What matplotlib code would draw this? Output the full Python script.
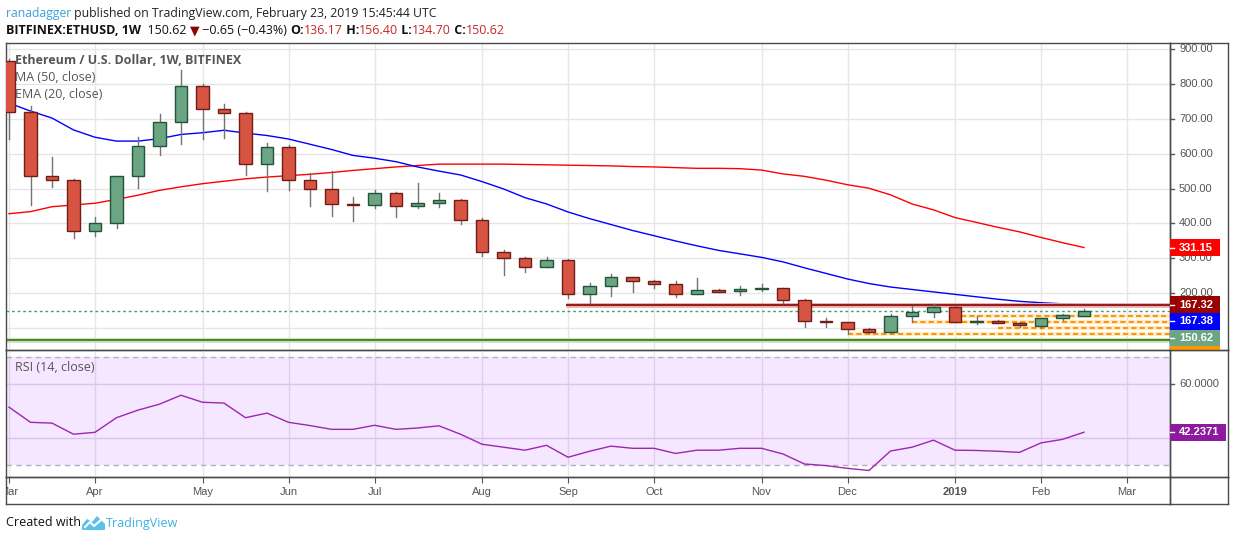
import matplotlib
matplotlib.use("Agg")
import matplotlib.pyplot as plt
from matplotlib.patches import Rectangle, Polygon
from matplotlib.lines import Line2D

# weekly ETHUSD candles (Bitfinex), week of Mar 5 2018 -> week of Feb 18 2019
opens = [865, 720, 535, 524, 378, 400, 535, 621, 690, 793, 727, 716, 570, 618, 524, 498, 456,
         452, 487, 449, 458, 466, 409, 317, 300, 274, 295, 197, 220, 246, 234, 226, 197, 209,
         206, 211, 214, 180, 120.6, 117, 97, 88, 134, 146, 160, 117, 120, 114.5, 107, 128, 136.17]
highs = [870, 737, 590, 527, 419, 537, 647, 714, 840, 800, 742, 719, 630, 624, 544, 549, 476,
         495, 490, 516, 487, 469, 415, 323, 303, 304, 298, 229, 255, 248, 238, 235, 244, 212,
         221, 227, 215, 183, 129, 117.5, 100.6, 141, 164, 170, 164, 134, 122.6, 117, 130, 141, 156.40]
lows = [642, 454, 505, 359, 365, 388, 501, 596, 629, 641, 646, 540, 494, 497, 451, 422, 408,
        445, 419, 444, 448, 399, 308, 253, 262, 274, 187, 171, 193, 204, 216, 190, 197, 204,
        196, 207, 172, 104, 104, 83, 85, 87, 118, 133, 117, 111, 114, 104, 101, 124, 134.70]
closes = [719, 537, 524, 378, 401, 535, 621, 690, 793, 727, 716, 570, 618, 524, 498, 455, 452,
          487, 449, 458, 466, 409, 317, 300, 274, 295, 198, 220, 246, 234, 226, 197, 209, 205,
          211, 214, 180, 120, 117, 97, 88, 134, 146, 160, 117.5, 119.6, 114.5, 108, 128, 137, 150.62]

ema20 = [745, 722, 702, 668, 647, 636, 636, 643, 655, 660, 667, 659, 652, 642, 627, 612, 595,
         587, 577, 562, 550, 539, 520, 499, 474, 456, 433, 414, 397, 380, 365, 350, 336, 323,
         313, 303, 290, 273, 257, 241, 228, 218, 211, 204, 197, 190, 183, 177, 173, 170, 167.38]
ma50 = [428, 434, 448, 453, 458, 469, 481, 495, 505, 514, 521, 528, 533, 537, 541, 546, 552,
        557, 562, 566, 570, 570, 570, 570, 569, 568, 567, 566, 565, 563, 562, 560, 558, 558,
        557, 553, 542, 535, 524, 511, 501, 482, 456, 439, 417, 403, 389, 376, 360, 345, 331.15]
rsi14 = [51.5, 45.9, 45.6, 41.5, 42.2, 47.6, 50.4, 52.6, 55.9, 53.3, 53.0, 47.6, 49.3, 45.9,
         44.7, 43.3, 43.3, 44.8, 43.3, 43.8, 44.6, 41.5, 37.8, 36.7, 35.6, 37.4, 33.0, 35.2,
         37.1, 36.3, 36.3, 34.4, 35.6, 35.6, 36.3, 36.3, 34.2, 30.5, 29.9, 28.9, 28.1, 35.3,
         36.7, 39.3, 35.6, 35.5, 35.2, 34.8, 38.3, 39.6, 42.2371]

# drawn levels
resistance = 167.32
resistance_from = 26
support = 65
orange_levels = [134, 117, 102, 82.5]
orange_from = [44.3, 42, 46, 39]

month_names = ["Mar", "Apr", "May", "Jun", "Jul", "Aug", "Sep", "Oct", "Nov", "Dec",
               "2019", "Feb", "Mar"]
month_bars = [0, 4, 9, 13, 17, 22, 26, 30, 35, 39, 44, 48, 52]
price_ticks = [100, 200, 300, 400, 500, 600, 700, 800, 900]
rsi_ticks = [40, 60]

W, H = 1234, 541
fig = plt.figure(figsize=(W / 100, H / 100), dpi=100)
fig.patch.set_facecolor("white")

FRAME = "#4a4a4a"
GRID = "#e6e6e6"
TXT = "#555555"
NUMFONT = ["Liberation Sans", "DejaVu Sans"]
UIFONT = ["Open Sans", "DejaVu Sans"]


def px_axes(x0, y0, x1, y1):
    a = fig.add_axes([x0 / W, 1 - y1 / H, (x1 - x0) / W, (y1 - y0) / H])
    a.set_facecolor("none")
    for s in a.spines.values():
        s.set_color(FRAME)
        s.set_linewidth(1)
    a.tick_params(left=False, bottom=False, labelleft=False, labelbottom=False)
    return a


ax = px_axes(6, 43, 1170, 350)
pax = px_axes(1170, 43, 1228, 350)
rax = px_axes(6, 350, 1170, 477)
rpax = px_axes(1170, 350, 1228, 477)
tax = px_axes(6, 477, 1170, 504)
cax = px_axes(1170, 477, 1228, 504)

xlim = (-3 / 21.5, 1161 / 21.5)
ylim = (37.6, 917)
rlim = (25.7, 72.6)
for a in (pax, rpax, cax):
    a.set_xlim(0, 1)
for a in (ax, rax, tax):
    a.set_xlim(*xlim)
for a in (ax, pax):
    a.set_ylim(*ylim)
for a in (rax, rpax):
    a.set_ylim(*rlim)
tax.set_ylim(0, 1)
cax.set_ylim(0, 1)

# grid
for a in (ax, rax):
    for b in month_bars:
        a.axvline(b, color=GRID, lw=1, zorder=0)
for p in price_ticks:
    ax.axhline(p, color=GRID, lw=1, zorder=0)
for r in rsi_ticks:
    rax.axhline(r, color="#e3d9ea", lw=1, zorder=0)

# moving averages
bars = list(range(len(closes)))
ax.plot(bars, ma50, color="#ff0000", lw=1, zorder=2)
ax.plot(bars, ema20, color="#0000ff", lw=1, zorder=2)

# drawn horizontal levels (under the candles)
ax.plot([resistance_from - 0.1, xlim[1]], [resistance] * 2, color="#eab4b4", lw=3.5, zorder=2.5,
        solid_capstyle="butt")
ax.plot([resistance_from - 0.1, xlim[1]], [resistance] * 2, color="#9b1b1b", lw=1.5, zorder=2.5,
        solid_capstyle="butt")
ax.axhline(support, color="#cfe2c0", lw=3.5, zorder=2.5)
ax.axhline(support, color="#4a8a2a", lw=1.5, zorder=2.5)
for lvl, start in zip(orange_levels, orange_from):
    ax.plot([start, xlim[1]], [lvl] * 2, color="#ffedd2", lw=3, zorder=2.5, solid_capstyle="butt")
    ax.plot([start, xlim[1]], [lvl] * 2, color="#ff9800", lw=1.5, ls=(0, (2.5, 1.5)), zorder=2.5)
ax.axhline(closes[-1], color="#4c9e6e", lw=1, ls=(0, (2, 2)), zorder=2.5)

# candles
up_face, up_edge = "#6ba583", "#225437"
dn_face, dn_edge = "#d75442", "#6f1d16"
for i in bars:
    o, h, l, c = opens[i], highs[i], lows[i], closes[i]
    ax.plot([i, i], [l, h], color="#737375", lw=1, zorder=3)
    up = c >= o
    ax.bar(i, max(abs(c - o), 0.8), bottom=min(o, c), width=0.56,
           color=up_face if up else dn_face, edgecolor=up_edge if up else dn_edge,
           linewidth=1, zorder=4)

# legend texts
ax.text(9 / 1164, 1 - 18 / 307, "Ethereum / U.S. Dollar, 1W, BITFINEX", transform=ax.transAxes,
        fontsize=9, fontweight="bold", color=TXT, family=UIFONT, va="center", ha="left", zorder=6)
ax.text(9 / 1164, 1 - 34.5 / 307, "MA (50, close)", transform=ax.transAxes,
        fontsize=9, color=TXT, family=UIFONT, va="center", ha="left", zorder=6)
ax.text(9 / 1164, 1 - 51 / 307, "EMA (20, close)", transform=ax.transAxes,
        fontsize=9, color=TXT, family=UIFONT, va="center", ha="left", zorder=6)

# price scale
tick_len = 4 / 58
label_x = 9 / 58
for p in price_ticks[1:]:
    pax.plot([0, tick_len], [p, p], color=TXT, lw=1)
    pax.text(label_x, p, f"{p:.2f}", color=TXT, fontsize=8, family=NUMFONT, va="center",
             ha="left")

# value boxes, stacked downward when they would collide
box_h = 16.7 / (307 / (ylim[1] - ylim[0]))
scale_labels = [(ma50[-1], "#ff0000"), (resistance, "#990000"), (ema20[-1], "#0000ff"),
                (closes[-1], "#6ba583"), (orange_levels[0], "#ff9800")]
prev = None
for val, col in scale_labels:
    yc = val if prev is None else min(val, prev - box_h)
    prev = yc
    pax.add_patch(Rectangle((0, yc - box_h / 2), 50 / 58, box_h, facecolor=col,
                            edgecolor="none", clip_on=True, zorder=3))
    pax.plot([0, tick_len], [yc, yc], color="white", lw=1, zorder=4)
    pax.text(label_x, yc, f"{val:.2f}", color="white", fontsize=8, fontweight="bold",
             family=NUMFONT, va="center", ha="left", zorder=5, clip_on=True)

# RSI panel
rax.axhspan(30, 70, color="#9915ff", alpha=0.1, lw=0, zorder=1)
for lvl in (30, 70):
    rax.axhline(lvl, color="#b7aec0", lw=1, ls=(0, (4, 3)), zorder=1.5)
rax.plot(bars, rsi14, color="#9c27b0", lw=1, zorder=3)
rax.text(9 / 1164, 1 - 17.5 / 127, "RSI (14, close)", transform=rax.transAxes, fontsize=9,
         color=TXT, family=UIFONT, va="center", ha="left")

for r in rsi_ticks:
    rpax.plot([0, tick_len], [r, r], color=TXT, lw=1)
# the 40 label sits under the current-value box, only 60 is readable
rpax.text(label_x, rsi_ticks[1], f"{rsi_ticks[1]:.4f}", color=TXT, fontsize=8, family=NUMFONT,
          va="center", ha="left")
rbox_h = 16.7 / (127 / (rlim[1] - rlim[0]))
rpax.add_patch(Rectangle((0, rsi14[-1] - rbox_h / 2), 56 / 58, rbox_h, facecolor="#8e1a9d",
                         edgecolor="none", zorder=3))
rpax.plot([0, tick_len], [rsi14[-1]] * 2, color="white", lw=1, zorder=4)
rpax.text(label_x, rsi14[-1], f"{rsi14[-1]:.4f}", color="white", fontsize=8, fontweight="bold",
          family=NUMFONT, va="center", ha="left", zorder=5)

# time scale
tax.set_xticks(month_bars)
tax.tick_params(axis="x", top=True, bottom=False, direction="in", length=4, color=TXT,
                labeltop=False, labelbottom=False)
for name, b in zip(month_names, month_bars):
    tax.text(b, 0.46, name, color=TXT, fontsize=8, family=NUMFONT, va="center", ha="center",
             fontweight="bold" if name.isdigit() else "normal", clip_on=True)

# header lines, written run by run
renderer = fig.canvas.get_renderer()


def write_runs(x, y, runs, size):
    for txt, color, weight in runs:
        t = fig.text(x / W, 1 - y / H, txt, color=color, fontsize=size, fontweight=weight,
                     family=UIFONT, va="center", ha="left")
        x += t.get_window_extent(renderer).width


write_runs(6, 13, [("ranadagger", "#3ea0dd", "normal"),
                   (" published on TradingView.com, February 23, 2019 15:45:44 UTC", "#222222",
                    "normal")], 8.8)
red = "#c62828"
write_runs(6, 31, [("BITFINEX:ETHUSD, 1W", "#111111", "bold"),
                   ("  150.62 ", "#111111", "normal"),
                   ("▼", "#8b0000", "normal"),
                   (" \u22120.65 (\u22120.43%) ", "#111111", "normal"),
                   ("O:", "#111111", "bold"), ("136.17", red, "normal"),
                   (" H:", "#111111", "bold"), ("156.40", red, "normal"),
                   (" L:", "#111111", "bold"), ("134.70", red, "normal"),
                   (" C:", "#111111", "bold"), ("150.62", red, "normal")], 9)

# footer
fig.text(6 / W, 1 - 523 / H, "Created with", fontsize=9, color="#111111", family=UIFONT,
         va="center", ha="left")
icon = [(82, 530), (82, 525), (87, 519), (92, 522), (97, 516), (105, 524), (105, 530)]
fig.add_artist(Polygon([(px / W, 1 - py / H) for px, py in icon], closed=True,
                       facecolor="#5bc0eb", edgecolor="none", transform=fig.transFigure))
fig.add_artist(Line2D([85 / W, 90 / W, 94 / W, 101 / W],
                      [1 - 527 / H, 1 - 522 / H, 1 - 526 / H, 1 - 520 / H],
                      color="white", lw=1.5, transform=fig.transFigure))
fig.text(106 / W, 1 - 523 / H, "TradingView", fontsize=9, color="#3bb3e4", family=UIFONT,
         va="center", ha="left")

fig.savefig("out.png", dpi=100, facecolor="white")
